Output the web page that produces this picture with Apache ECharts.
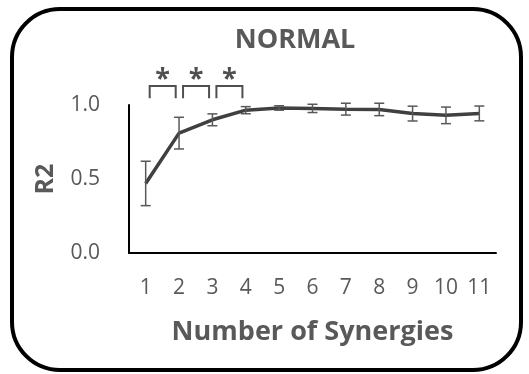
<!DOCTYPE html>
<html><head><meta charset="utf-8">
<script src="https://cdn.jsdelivr.net/npm/echarts@6/dist/echarts.min.js"></script>
<style>html,body{margin:0;padding:0;background:#fff}#c{width:529px;height:374px}</style>
</head><body><div id="c"></div>
<script>
var categories = ['1','2','3','4','5','6','7','8','9','10','11'];
var meanR2 = [0.47, 0.81, 0.90, 0.965, 0.98, 0.977, 0.972, 0.97, 0.942, 0.93, 0.943];
var errR2 = [0.15, 0.107, 0.04, 0.024, 0.015, 0.028, 0.04, 0.042, 0.05, 0.056, 0.05];
var yTicks = [0, 0.5, 1.0];
// significance brackets: [fromIndex, toIndex]
var sigPairs = [[0,1],[1,2],[2,3]];
var sigLabel = '*';

var FONT = '"Open Sans", "Noto Sans", sans-serif';
var chart = echarts.init(document.getElementById('c'));
var errData = meanR2.map(function(m,i){return [i, m-errR2[i], m+errR2[i]];});
var sigData = sigPairs.map(function(p){return [p[0], p[1]];});

chart.setOption({
  animation:false,
  backgroundColor:'#fff',
  title:{text:'NORMAL', left:290, top:22, textAlign:'center',
    textStyle:{fontFamily:FONT, fontWeight:'bold', fontSize:27, color:'#595959'}},
  graphic:[{type:'rect', shape:{x:12, y:9, width:509, height:361, r:48},
    style:{fill:'none', stroke:'#000', lineWidth:4}, z:-1}],
  grid:{left:129, right:33, top:105, bottom:121},
  xAxis:{type:'category', data:categories, boundaryGap:true,
    name:'Number of Synergies', nameLocation:'middle', nameGap:66,
    nameTextStyle:{fontFamily:FONT, fontWeight:'bold', fontSize:27, color:'#595959'},
    axisLine:{lineStyle:{color:'#000', width:2}}, axisTick:{show:false},
    axisLabel:{fontFamily:FONT, fontSize:21, color:'#595959', margin:25}},
  yAxis:{type:'value', min:0, max:1, interval:0.5,
    name:'R2', nameLocation:'middle', nameGap:71, nameRotate:90,
    nameTextStyle:{fontFamily:FONT, fontWeight:'bold', fontSize:25, color:'#595959'},
    axisLine:{show:true, lineStyle:{color:'#000', width:2}}, axisTick:{show:false},
    splitLine:{show:false},
    axisLabel:{fontFamily:FONT, fontSize:21, color:'#595959', margin:29,
      formatter:function(v){return v.toFixed(1);}}},
  series:[
    {type:'line', data:meanR2, symbol:'none', z:3,
      lineStyle:{color:'#404040', width:3.5}},
    {type:'custom', data:errData, z:4,
      renderItem:function(params, api){
        var lo = api.coord([api.value(0), api.value(1)]);
        var hi = api.coord([api.value(0), api.value(2)]);
        var w = 5, st = {stroke:'#595959', lineWidth:1.5};
        return {type:'group', children:[
          {type:'line', shape:{x1:lo[0], y1:lo[1], x2:hi[0], y2:hi[1]}, style:st},
          {type:'line', shape:{x1:lo[0]-w, y1:lo[1], x2:lo[0]+w, y2:lo[1]}, style:st},
          {type:'line', shape:{x1:hi[0]-w, y1:hi[1], x2:hi[0]+w, y2:hi[1]}, style:st}
        ]};
      }},
    {type:'custom', data:sigData, clip:false, z:4,
      renderItem:function(params, api){
        var a = api.coord([api.value(0), 1.128]);
        var b = api.coord([api.value(1), 1.128]);
        var bot = api.coord([api.value(0), 1.045])[1];
        var d = b[0]-a[0];
        var x1 = a[0] + d*0.12, x2 = a[0] + d*0.9, top = a[1];
        var st = {stroke:'#505050', lineWidth:2, fill:'none'};
        return {type:'group', children:[
          {type:'polyline', shape:{points:[[x1,bot],[x1,top],[x2,top],[x2,bot]]}, style:st},
          {type:'text', style:{text:sigLabel, x:(x1+x2)/2, y:top-7, align:'center', verticalAlign:'middle',
            fontFamily:FONT, fontWeight:'bold', fontSize:27, fill:'#505050'}}
        ]};
      }}
  ]
});
</script></body></html>
